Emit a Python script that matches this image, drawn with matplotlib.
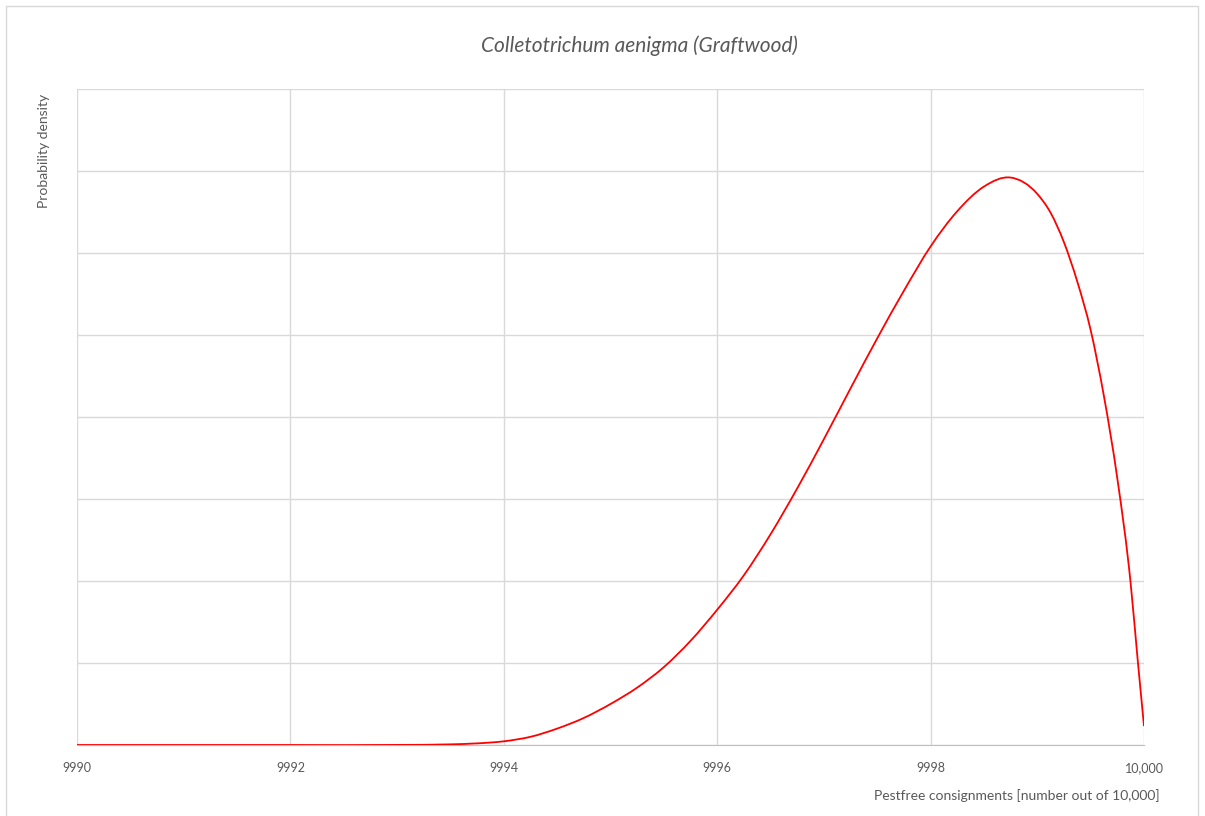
import matplotlib
matplotlib.use("Agg")
import matplotlib.pyplot as plt
import numpy as np
from matplotlib.patches import Rectangle, PathPatch
from matplotlib.path import Path

plt.rcParams['font.family'] = ['Lato', 'DejaVu Sans']

# Werte (Dichte in willkürlichen Einheiten, Gitter = 1)
consignments = [9990, 9991, 9992, 9993, 9993.5, 9993.75, 9994, 9994.25, 9994.5,
                9994.75, 9995, 9995.25, 9995.5, 9995.75, 9996, 9996.25, 9996.5,
                9996.75, 9997, 9997.25, 9997.5, 9997.75, 9998, 9998.25, 9998.5,
                9998.75, 9999, 9999.125, 9999.25, 9999.375, 9999.5, 9999.625,
                9999.75, 9999.875, 9999.94, 10000]
density = [0, 0, 0, 0.001, 0.008, 0.02, 0.045, 0.10, 0.20,
           0.33, 0.50, 0.70, 0.95, 1.27, 1.65, 2.07, 2.57,
           3.13, 3.73, 4.35, 4.96, 5.54, 6.08, 6.51, 6.81,
           6.92, 6.72, 6.49, 6.13, 5.65, 5.06, 4.25,
           3.25, 1.97, 1.05, 0.23]

xticks = [9990, 9992, 9994, 9996, 9998, 10000]
xticklabels = ['9990', '9992', '9994', '9996', '9998', '10,000']

grey = '#595959'


def smooth_path(xs, ys):
    """Geglättete Linie wie in Excel: Hermite-Kurven durch die Punkte als Bezier."""
    x = np.asarray(xs, float)
    y = np.asarray(ys, float)
    n = len(x)
    h = np.diff(x)
    d = np.diff(y) / h
    m = np.empty(n)
    m[0] = d[0]
    m[-1] = d[-1]
    # Ableitung der Parabel durch drei Nachbarpunkte
    m[1:-1] = (h[1:] * d[:-1] + h[:-1] * d[1:]) / (h[:-1] + h[1:])
    verts = [(x[0], y[0])]
    codes = [Path.MOVETO]
    for i in range(n - 1):
        verts += [(x[i] + h[i] / 3, y[i] + m[i] * h[i] / 3),
                  (x[i + 1] - h[i] / 3, y[i + 1] - m[i + 1] * h[i] / 3),
                  (x[i + 1], y[i + 1])]
        codes += [Path.CURVE4] * 3
    return Path(verts, codes)


fig = plt.figure(figsize=(12.05, 8.16), dpi=100)
ax = fig.add_axes([77 / 1205, 1 - 745 / 816, (1144 - 77) / 1205, (745 - 89) / 816])

# Rahmen um das Diagramm
fig.patches.append(Rectangle((6 / 1205, -0.01), (1198 - 6) / 1205, 1 - 6 / 816 + 0.01,
                             transform=fig.transFigure, fill=False,
                             edgecolor='#d9d9d9', linewidth=1))

ax.add_patch(PathPatch(smooth_path(consignments, density), fill=False,
                       edgecolor='#ff0000', linewidth=1.3, zorder=3))

ax.set_xlim(9990, 10000)
ax.set_ylim(0, 8)
ax.set_xticks(xticks)
ax.set_xticklabels(xticklabels, color=grey, fontsize=9)
ax.set_yticks(range(0, 9))
ax.set_yticklabels([])
ax.tick_params(length=0, pad=12)
ax.grid(True, color='#d9d9d9', linewidth=1)
ax.set_axisbelow(True)
for side in ['top', 'left', 'right']:
    ax.spines[side].set_visible(False)
ax.spines['bottom'].set_color('#bfbfbf')

fig.text(639 / 1205, 1 - 46 / 816, 'Colletotrichum aenigma (Graftwood)',
         ha='center', va='center', fontsize=15, style='italic', color=grey)
fig.text(1160 / 1205, 1 - 796 / 816, 'Pestfree consignments [number out of 10,000]',
         ha='right', va='center', fontsize=10, color=grey)
fig.text(44 / 1205, 1 - 94 / 816, 'Probability density', rotation=90,
         ha='center', va='top', fontsize=10, color=grey)

fig.savefig('out.png', dpi=100)
